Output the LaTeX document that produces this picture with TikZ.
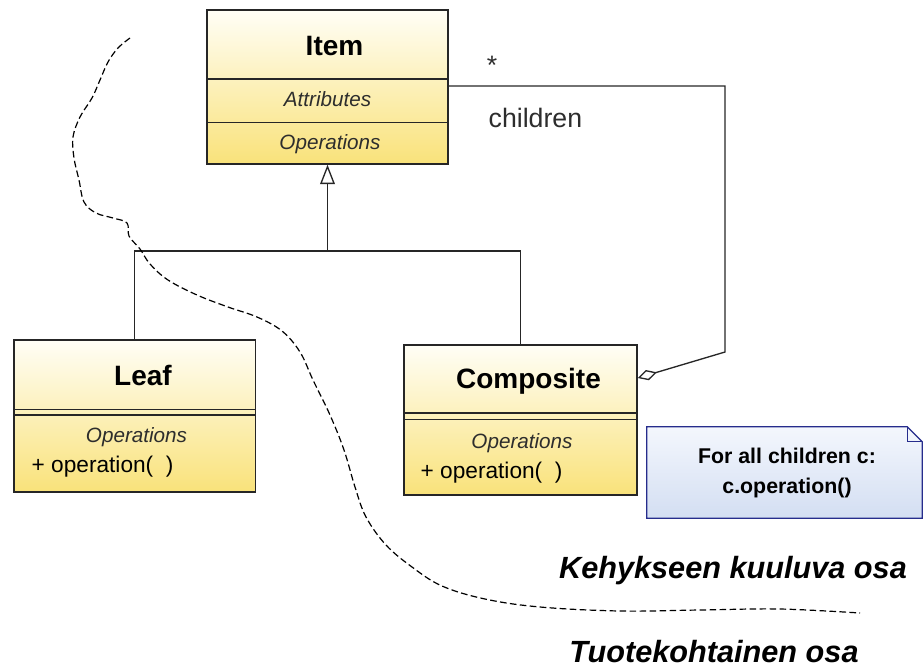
\documentclass[tikz,border=0pt]{standalone}
\usepackage{fontspec}
\setmainfont{Liberation Sans}
\usetikzlibrary{arrows.meta}
\definecolor{umltop}{RGB}{255,254,246}
\definecolor{umlbot}{RGB}{249,226,122}
\definecolor{notetop}{RGB}{244,247,253}
\definecolor{notebot}{RGB}{211,222,242}
\definecolor{noteline}{RGB}{38,44,140}
\definecolor{txtgray}{RGB}{45,45,45}
\begin{document}
\begin{tikzpicture}[x=0.75pt,y=-0.75pt,
  classbox/.style={draw=black!85, line width=1.1pt, top color=umltop, bottom color=umlbot, inner sep=0pt},
  divider/.style={draw=black!85, line width=1pt},
  classname/.style={anchor=base, font=\fontsize{21}{25}\selectfont\bfseries},
  section/.style={anchor=base, font=\fontsize{15.5}{18}\selectfont\itshape, text=txtgray},
  member/.style={anchor=base west, font=\fontsize{17}{20}\selectfont},
  rolelabel/.style={anchor=base, font=\fontsize{20}{24}\selectfont, text=txtgray},
  link/.style={draw=black!85, line width=1pt},
  area/.style={anchor=base, font=\fontsize{23}{27}\selectfont\bfseries\itshape},
  boundary/.style={draw=black, line width=0.9pt, dash pattern=on 5pt off 2.5pt}]

\useasboundingbox (0,0) rectangle (923,671);

% ---------- classes ----------
\node[classbox, minimum width=180.75pt, minimum height=115.5pt] (item) at (327.5,87) {};
\draw[divider] (207,79) -- (448,79);
\draw[divider] (207,122.5) -- (448,122.5);
\node[classname] (itemname) at (334.5,55) {Item};
\node[section] (itemattr) at (327.5,106) {Attributes};
\node[section] (itemops) at (330,149) {Operations};

\node[classbox, minimum width=181.1pt, minimum height=114pt] (leaf) at (134.75,416) {};
\draw[divider] (14,409.5) -- (255.5,409.5);
\draw[divider] (14,415) -- (255.5,415);
\node[classname] (leafname) at (143,385) {Leaf};
\node[section] (leafops) at (136.5,442) {Operations};
\node[member] (leafop) at (27,472) {+ operation(\ \ )};

\node[classbox, minimum width=174.75pt, minimum height=112.5pt] (composite) at (520.5,420) {};
\draw[divider] (404,413) -- (637,413);
\draw[divider] (404,419.5) -- (637,419.5);
\node[classname] (compname) at (528.5,388) {Composite};
\node[section] (compops) at (522,448) {Operations};
\node[member] (compop) at (416,478) {+ operation(\ \ )};

% ---------- generalization ----------
\coordinate (fork) at (327.5,251);
\draw[link] (leaf.north) |- (fork);
\draw[link] (composite.north) |- (fork);
\draw[link, -{Triangle[open, length=14.5pt, width=11pt, fill=white]}] (fork) -- (item.south);

% ---------- aggregation ----------
\coordinate (aggbend) at (725,352);
\draw[link, {Diamond[open, length=15pt, width=8pt, fill=white]}-]
  ([yshift=31.5pt]composite.east) -- (aggbend) |- ([yshift=0.75pt]item.east);
\node[rolelabel] (mult) at (492,74) {*};
\node[rolelabel, anchor=base west] (role) at (484,127) {children};

% ---------- note ----------
\node[minimum width=206.25pt, minimum height=68.25pt, inner sep=0pt] (note) at (784.5,472.5) {};
\path[top color=notetop, bottom color=notebot]
  (note.north west) -- ([xshift=-11.25pt]note.north east) -- ([yshift=-11.25pt]note.north east)
  -- (note.south east) -- (note.south west) -- cycle;
\draw[noteline, line width=1pt]
  (note.north west) -- ([xshift=-11.25pt]note.north east) -- ([yshift=-11.25pt]note.north east)
  -- (note.south east) -- (note.south west) -- cycle;
\draw[noteline, line width=0.8pt]
  ([xshift=-11.25pt]note.north east) -- ([xshift=-11.25pt,yshift=-11.25pt]note.north east)
  -- ([yshift=-11.25pt]note.north east);
\node[font=\fontsize{16}{22.5}\selectfont\bfseries, align=center] (notetext) at (787,472.5)
      {For all children c:\\c.operation()};

% ---------- framework boundary ----------
\draw[boundary] plot[smooth, tension=0.6] coordinates {
  (130,38) (118,48) (108,62) (100,80) (92,98) (80,117) (73,137) (74,158) (79,180)
  (84,202) (96,213) (113,218) (127,223) (129,236) (140,249) (150,264) (168,280)
  (197,295) (228,307) (257,317) (282,331) (300,352) (313,380) (330,415) (344,450)
  (355,487) (366,517) (386,545) (412,567) (442,586) (485,599) (540,607) (620,611)
  (700,610) (780,609) (860,613)};

\node[area] (framework) at (733,578) {Kehykseen kuuluva osa};
\node[area] (product) at (714,662) {Tuotekohtainen osa};
\end{tikzpicture}
\end{document}
